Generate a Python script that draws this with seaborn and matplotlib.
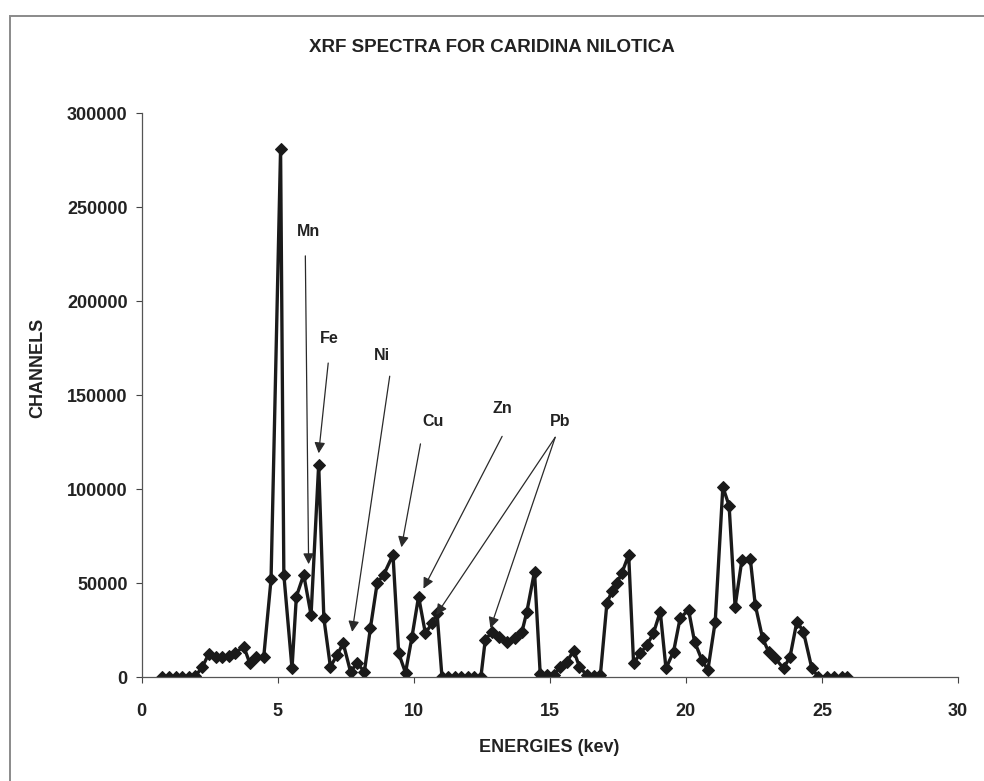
import matplotlib
matplotlib.use("Agg")
import matplotlib.pyplot as plt
import seaborn as sns
import pandas as pd
from matplotlib.patches import Rectangle

# XRF spectrum of Caridina nilotica: energy (keV) vs counts (channels)
energy_kev = [
    0.76, 1.00, 1.25, 1.49, 1.74, 1.98, 2.23, 2.47, 2.72, 2.96,
    3.21, 3.45, 3.76, 3.98, 4.22, 4.49, 4.76, 5.11, 5.23, 5.53,
    5.69, 5.96, 6.23, 6.51, 6.70, 6.94, 7.19, 7.41, 7.68, 7.92,
    8.19, 8.41, 8.66, 8.90, 9.24, 9.45, 9.70, 9.94, 10.18, 10.43,
    10.68, 10.86, 11.04, 11.27, 11.51, 11.75, 11.99, 12.23, 12.47, 12.63,
    12.88, 13.12, 13.43, 13.73, 13.98, 14.16, 14.44, 14.65, 14.89, 15.14,
    15.39, 15.63, 15.88, 16.09, 16.37, 16.61, 16.86, 17.10, 17.28, 17.47,
    17.65, 17.90, 18.08, 18.33, 18.57, 18.81, 19.06, 19.27, 19.55, 19.79,
    20.10, 20.32, 20.59, 20.81, 21.08, 21.36, 21.59, 21.81, 22.06, 22.37,
    22.55, 22.82, 23.04, 23.28, 23.59, 23.83, 24.08, 24.32, 24.63, 24.87,
    25.18, 25.46, 25.73, 25.92,
]
channels = [
    0, 0, 0, 0, 0, 500, 5200, 12300, 10800, 10800,
    11300, 13000, 16100, 7300, 10800, 10500, 52000, 280800, 54400, 4600,
    42800, 54400, 33000, 113000, 31300, 5500, 11700, 18000, 2800, 7300,
    2800, 26000, 50000, 54400, 65000, 12600, 2300, 21500, 42800, 23300,
    28600, 33900, 0, 0, 0, 0, 0, 0, 0, 19700,
    24100, 21500, 18800, 20600, 24100, 34800, 56100, 1500, 1000, 1000,
    5500, 8200, 14000, 5500, 800, 500, 1000, 39300, 45500, 50000,
    55300, 65000, 7300, 12600, 17000, 23300, 34800, 4600, 13500, 31300,
    35700, 18800, 9100, 3700, 29500, 101100, 91100, 37500, 62300, 62700,
    38400, 20600, 13500, 10000, 4600, 10800, 29500, 24100, 4600, 0,
    0, 0, 0, 0,
]

# element call-outs: label position, start of leader line, arrow tip(s)
elements = ["Mn", "Fe", "Ni", "Cu", "Zn", "Pb"]
label_xy = [(6.13, 237000), (6.90, 180000), (8.85, 171000),
            (10.72, 136000), (13.25, 143000), (15.39, 136000)]
leader_start = [(6.02, 224000), (6.86, 167000), (9.12, 160000),
                (10.25, 124000), (13.25, 128000), (15.20, 127500)]
arrow_tips = [[(6.14, 60000)], [(6.51, 119000)], [(7.74, 24000)],
              [(9.55, 69000)], [(10.36, 47000)], [(10.83, 33000), (12.82, 26000)]]

x_ticks = [0, 5, 10, 15, 20, 25, 30]
y_ticks = [0, 50000, 100000, 150000, 200000, 250000, 300000]

sns.set_theme(style="ticks")
plt.rcParams["font.family"] = ["Liberation Sans", "DejaVu Sans"]

W, H = 984, 781
fig = plt.figure(figsize=(W / 100, H / 100), dpi=100)
fig.patch.set_facecolor("white")
ax = fig.add_axes([141.5 / W, 1 - 677 / H, (958 - 141.5) / W, (677 - 113) / H])
ax.set_facecolor("white")

df = pd.DataFrame({"energy": energy_kev, "channels": channels})
ink = "#1a1a1a"
sns.lineplot(data=df, x="energy", y="channels", ax=ax, sort=False,
             color=ink, linewidth=2.4, marker="D", markersize=6.4,
             markerfacecolor=ink, markeredgecolor=ink, errorbar=None)

for name, lxy, start, tips in zip(elements, label_xy, leader_start, arrow_tips):
    ax.text(lxy[0], lxy[1], name, ha="center", va="center",
            fontsize=11.5, fontweight="bold", color="#222222")
    for tip in tips:
        ax.annotate("", xy=tip, xytext=start,
                    arrowprops=dict(arrowstyle="-|>", color="#2a2a2a", lw=0.9,
                                    mutation_scale=16, shrinkA=0, shrinkB=0))

ax.set_xlim(0, 30)
ax.set_ylim(0, 300000)
ax.set_xticks(x_ticks)
ax.set_yticks(y_ticks)
ax.set_xticklabels([str(v) for v in x_ticks])
ax.set_yticklabels([str(v) for v in y_ticks])
ax.set_xlabel("")
ax.set_ylabel("")
for lab in ax.get_xticklabels() + ax.get_yticklabels():
    lab.set_fontweight("bold")
    lab.set_fontsize(13)
    lab.set_color("#222222")
ax.tick_params(axis="x", direction="out", length=4, width=0.8, pad=15, colors="#444444",
               labelcolor="#222222")
ax.tick_params(axis="y", direction="out", length=4, width=0.8, pad=6, colors="#444444",
               labelcolor="#222222")
sns.despine(ax=ax)
for side in ("left", "bottom"):
    ax.spines[side].set_color("#555555")
    ax.spines[side].set_linewidth(0.9)

fig.text(0.5, 1 - 48 / H, "XRF SPECTRA FOR CARIDINA NILOTICA", ha="center", va="center",
         fontsize=13.5, fontweight="bold", color="#222222")
fig.text(38 / W, 1 - 368 / H, "CHANNELS", rotation=90, ha="center", va="center",
         fontsize=13, fontweight="bold", color="#222222")
fig.text(549 / W, 1 - 748 / H, "ENERGIES (kev)", ha="center", va="center",
         fontsize=13, fontweight="bold", color="#222222")

# chart frame (left and top edges visible)
fig.patches.append(Rectangle((10 / W, -0.05), 1.2, 1 - 16 / H + 0.05,
                             transform=fig.transFigure, fill=False,
                             edgecolor="#8a8a8a", linewidth=1.4))

fig.savefig("out.png", dpi=100)
